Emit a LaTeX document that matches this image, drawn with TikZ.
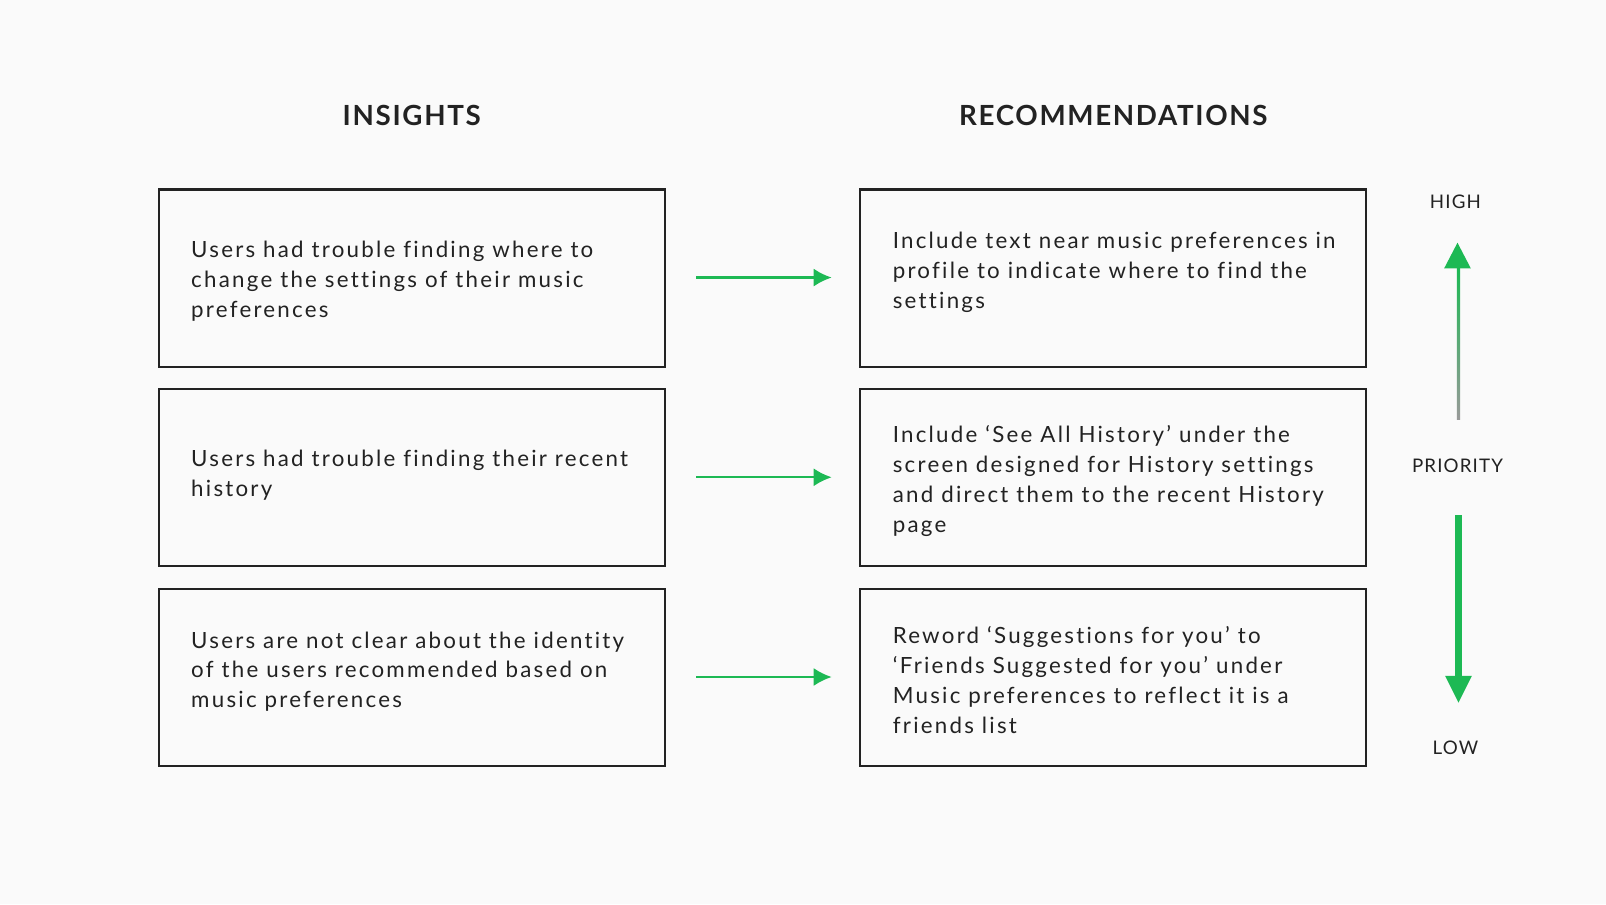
\documentclass[tikz,border=0pt]{standalone}
\usepackage{fontspec}
\setmainfont{Lato}[LetterSpace=6,Ligatures=NoCommon]
\newfontfamily\bodyfont{Lato}[LetterSpace=10,Ligatures=NoCommon]
\usetikzlibrary{arrows.meta}
\definecolor{bg}{HTML}{FAFAFA}
\definecolor{grn}{HTML}{1DB954}
\definecolor{txt}{HTML}{222222}
\begin{document}
\begin{tikzpicture}[x=0.01cm,y=-0.01cm,
  txtn/.style={anchor=north west,align=left,font=\bodyfont\fontsize{6.2pt}{8.3pt}\selectfont,text=txt,inner sep=0},
  hd/.style={font=\bfseries\fontsize{7.7pt}{9pt}\selectfont,text=txt},
  lbl/.style={font=\fontsize{5.2pt}{6pt}\selectfont,text=txt},
  ga/.style={draw=grn,line width=0.6pt,-{Latex[length=5pt,width=5pt]}}]
\fill[bg] (0,0) rectangle (1568,883);
\useasboundingbox (0,0) rectangle (1568,883);
\node[hd] (t1) at (402,113) {INSIGHTS};
\node[hd] (t2) at (1087,113) {RECOMMENDATIONS};
\foreach \n/\y in {1/185,2/380,3/575}{
  \draw[txt,line width=0.6pt] (155,\y) rectangle (649,\y+173);
  \draw[txt,line width=0.6pt] (840,\y) rectangle (1334,\y+173);
  \coordinate (la\n) at (680,\y+86);
  \coordinate (ra\n) at (812,\y+86);
  \draw[ga] (la\n) -- (ra\n);
}
\node[txtn] (i1) at (186,235) {Users had trouble finding where to\\change the settings of their music\\preferences};
\node[txtn] (i2) at (186,439) {Users had trouble finding their recent\\history};
\node[txtn] (i3) at (186,616) {Users are not clear about the identity\\of the users recommended based on\\music preferences};
\node[txtn] (r1) at (871,226) {Include text near music preferences in\\profile to indicate where to find the\\settings};
\node[txtn] (r2) at (871,415) {Include ‘See All History’ under the\\screen designed for History settings\\and direct them to the recent History\\page};
\node[txtn] (r3) at (871,611) {Reword ‘Suggestions for you’ to\\‘Friends Suggested for you’ under\\Music preferences to reflect it is a\\friends list};
\node[lbl] (hi) at (1421,197) {HIGH};
\node[lbl] (pr) at (1423,455) {PRIORITY};
\node[lbl] (lo) at (1421,730) {LOW};
\shade[bottom color=gray!80, top color=grn] (1422.5,410) rectangle (1425.5,262);
\fill[grn] (1410,262) -- (1436,262) -- (1423,237) -- cycle;
\coordinate (d0) at (1424,503); \coordinate (d1) at (1424,686);
\draw[grn,line width=2.2pt] (d0) -- (1424,662);
\fill[grn] (1411,660) -- (1437,660) -- (d1) -- cycle;
\end{tikzpicture}
\end{document}
